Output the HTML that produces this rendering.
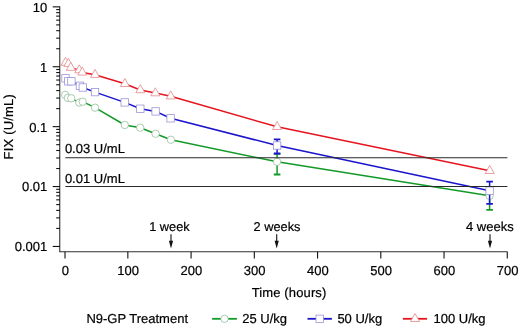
<!DOCTYPE html>
<html><head><meta charset="utf-8"><title>FIX activity</title>
<style>html,body{margin:0;padding:0;background:#fff;overflow:hidden;}svg{display:block;will-change:transform;}text{font-family:"Liberation Sans",sans-serif;font-size:13px;fill:#000;stroke:#000;stroke-width:0.2px;text-rendering:geometricPrecision;}</style>
</head><body>
<svg width="520" height="329" viewBox="0 0 520 329">
<rect width="520" height="329" fill="#fff"/>
<path d="M59.75 6.4V251.8H507.4" stroke="#303030" stroke-width="1.1" fill="none"/>
<g stroke="#111" stroke-width="1.1" fill="none">
<path d="M52.7 6.85H59.9"/>
<path d="M56.2 48.72H59.9"/>
<path d="M56.2 38.17H59.9"/>
<path d="M56.2 30.69H59.9"/>
<path d="M56.2 24.88H59.9"/>
<path d="M56.2 20.14H59.9"/>
<path d="M56.2 16.13H59.9"/>
<path d="M56.2 12.65H59.9"/>
<path d="M56.2 9.59H59.9"/>
<path d="M52.7 66.75H59.9"/>
<path d="M56.2 108.62H59.9"/>
<path d="M56.2 98.07H59.9"/>
<path d="M56.2 90.59H59.9"/>
<path d="M56.2 84.78H59.9"/>
<path d="M56.2 80.04H59.9"/>
<path d="M56.2 76.03H59.9"/>
<path d="M56.2 72.55H59.9"/>
<path d="M56.2 69.49H59.9"/>
<path d="M52.7 126.65H59.9"/>
<path d="M56.2 168.52H59.9"/>
<path d="M56.2 157.97H59.9"/>
<path d="M56.2 150.49H59.9"/>
<path d="M56.2 144.68H59.9"/>
<path d="M56.2 139.94H59.9"/>
<path d="M56.2 135.93H59.9"/>
<path d="M56.2 132.45H59.9"/>
<path d="M56.2 129.39H59.9"/>
<path d="M52.7 186.55H59.9"/>
<path d="M56.2 228.42H59.9"/>
<path d="M56.2 217.87H59.9"/>
<path d="M56.2 210.39H59.9"/>
<path d="M56.2 204.58H59.9"/>
<path d="M56.2 199.84H59.9"/>
<path d="M56.2 195.83H59.9"/>
<path d="M56.2 192.35H59.9"/>
<path d="M56.2 189.29H59.9"/>
<path d="M52.7 246.45H59.9"/>
<path d="M65.00 251.8V258.4"/>
<path d="M127.84 251.8V258.4"/>
<path d="M191.08 251.8V258.4"/>
<path d="M254.32 251.8V258.4"/>
<path d="M317.56 251.8V258.4"/>
<path d="M380.80 251.8V258.4"/>
<path d="M444.04 251.8V258.4"/>
<path d="M507.28 251.8V258.4"/>
</g>
<text x="47.3" y="11.75" text-anchor="end">10</text>
<text x="47.3" y="71.65" text-anchor="end">1</text>
<text x="47.3" y="131.55" text-anchor="end">0.1</text>
<text x="47.3" y="191.45" text-anchor="end">0.01</text>
<text x="47.3" y="251.35" text-anchor="end">0.001</text>
<text x="65.30" y="274.7" text-anchor="middle">0</text>
<text x="128.14" y="274.7" text-anchor="middle">100</text>
<text x="191.38" y="274.7" text-anchor="middle">200</text>
<text x="254.62" y="274.7" text-anchor="middle">300</text>
<text x="317.86" y="274.7" text-anchor="middle">400</text>
<text x="381.10" y="274.7" text-anchor="middle">500</text>
<text x="444.34" y="274.7" text-anchor="middle">600</text>
<text x="507.58" y="274.7" text-anchor="middle">700</text>
<text transform="translate(12.5 126.7) rotate(-90)" text-anchor="middle" style="letter-spacing:0.2px">FIX (U/mL)</text>
<text x="289.1" y="296.7" text-anchor="middle" style="letter-spacing:0.13px">Time (hours)</text>
<text x="64.9" y="152.9">0.03 U/mL</text>
<text x="64.9" y="182.5">0.01 U/mL</text>
<text x="149.2" y="230.8" style="font-size:12.8px">1 week</text>
<text x="253.5" y="231" style="font-size:12.8px">2 weeks</text>
<text x="466" y="231">4 weeks</text>
<path d="M171 234.3V242" stroke="#111" stroke-width="1.1" fill="none"/>
<path d="M168.9 240.8H173.1L171 248.4Z" fill="#111"/>
<path d="M276.7 234.3V242" stroke="#111" stroke-width="1.1" fill="none"/>
<path d="M274.59999999999997 240.8H278.8L276.7 248.4Z" fill="#111"/>
<path d="M490 234.3V242" stroke="#111" stroke-width="1.1" fill="none"/>
<path d="M487.9 240.8H492.1L490 248.4Z" fill="#111"/>
<path d="M65.20 94.90L67.80 97.90L71.20 98.30L79.30 102.60L82.70 101.70L95.00 107.70L124.75 125.00L140.25 127.75L155.60 133.75L170.90 139.75L277.10 161.80L489.60 195.80" stroke="#129a28" stroke-width="1.5" fill="none" stroke-linejoin="round"/>
<path d="M277.1 153.9V174.5" stroke="#129a28" stroke-width="1.5" fill="none"/>
<path d="M273.8 153.9H280.40000000000003M273.8 174.5H280.40000000000003" stroke="#129a28" stroke-width="1.8" fill="none"/>
<path d="M489.6 187.3V209.8" stroke="#129a28" stroke-width="1.5" fill="none"/>
<path d="M486.3 187.3H492.90000000000003M486.3 209.8H492.90000000000003" stroke="#129a28" stroke-width="1.8" fill="none"/>
<circle cx="65.2" cy="94.9" r="3.7" fill="#fff" stroke="#96c09c" stroke-width="0.8"/>
<circle cx="67.8" cy="97.9" r="3.7" fill="#fff" stroke="#96c09c" stroke-width="0.8"/>
<circle cx="71.2" cy="98.3" r="3.7" fill="#fff" stroke="#96c09c" stroke-width="0.8"/>
<circle cx="79.3" cy="102.6" r="3.7" fill="#fff" stroke="#96c09c" stroke-width="0.8"/>
<circle cx="82.7" cy="101.7" r="3.7" fill="#fff" stroke="#96c09c" stroke-width="0.8"/>
<circle cx="95" cy="107.7" r="3.7" fill="#fff" stroke="#96c09c" stroke-width="0.8"/>
<circle cx="124.75" cy="125" r="3.7" fill="#fff" stroke="#96c09c" stroke-width="0.8"/>
<circle cx="140.25" cy="127.75" r="3.7" fill="#fff" stroke="#96c09c" stroke-width="0.8"/>
<circle cx="155.6" cy="133.75" r="3.7" fill="#fff" stroke="#96c09c" stroke-width="0.8"/>
<circle cx="170.9" cy="139.75" r="3.7" fill="#fff" stroke="#96c09c" stroke-width="0.8"/>
<circle cx="277.1" cy="161.8" r="3.7" fill="#fff" stroke="#96c09c" stroke-width="0.8"/>
<circle cx="489.6" cy="195.8" r="3.7" fill="#fff" stroke="#96c09c" stroke-width="0.8"/>
<path d="M65.50 78.30L68.30 81.30L71.40 81.30L79.90 85.80L82.80 87.50L95.00 92.10L124.70 102.40L140.30 108.75L155.60 111.40L170.60 118.30L277.10 145.50L489.60 190.70" stroke="#1a14cc" stroke-width="1.5" fill="none" stroke-linejoin="round"/>
<path d="M277.1 139.3V153.5" stroke="#1a14cc" stroke-width="1.5" fill="none"/>
<path d="M273.8 139.3H280.40000000000003M273.8 153.5H280.40000000000003" stroke="#1a14cc" stroke-width="1.8" fill="none"/>
<path d="M489.6 181.6V203.9" stroke="#1a14cc" stroke-width="1.5" fill="none"/>
<path d="M486.3 181.6H492.90000000000003M486.3 203.9H492.90000000000003" stroke="#1a14cc" stroke-width="1.8" fill="none"/>
<rect x="61.80" y="74.60" width="7.4" height="7.4" fill="#fff" stroke="#9a94d6" stroke-width="0.8"/>
<rect x="64.60" y="77.60" width="7.4" height="7.4" fill="#fff" stroke="#9a94d6" stroke-width="0.8"/>
<rect x="67.70" y="77.60" width="7.4" height="7.4" fill="#fff" stroke="#9a94d6" stroke-width="0.8"/>
<rect x="76.20" y="82.10" width="7.4" height="7.4" fill="#fff" stroke="#9a94d6" stroke-width="0.8"/>
<rect x="79.10" y="83.80" width="7.4" height="7.4" fill="#fff" stroke="#9a94d6" stroke-width="0.8"/>
<rect x="91.30" y="88.40" width="7.4" height="7.4" fill="#fff" stroke="#9a94d6" stroke-width="0.8"/>
<rect x="121.00" y="98.70" width="7.4" height="7.4" fill="#fff" stroke="#9a94d6" stroke-width="0.8"/>
<rect x="136.60" y="105.05" width="7.4" height="7.4" fill="#fff" stroke="#9a94d6" stroke-width="0.8"/>
<rect x="151.90" y="107.70" width="7.4" height="7.4" fill="#fff" stroke="#9a94d6" stroke-width="0.8"/>
<rect x="166.90" y="114.60" width="7.4" height="7.4" fill="#fff" stroke="#9a94d6" stroke-width="0.8"/>
<rect x="273.40" y="141.80" width="7.4" height="7.4" fill="#fff" stroke="#9a94d6" stroke-width="0.8"/>
<rect x="485.90" y="187.00" width="7.4" height="7.4" fill="#fff" stroke="#9a94d6" stroke-width="0.8"/>
<path d="M65.50 62.60L68.40 63.70L70.80 67.60L79.30 70.10L82.30 72.40L95.00 74.70L124.90 83.80L140.30 90.00L155.40 93.10L170.70 96.20L277.10 126.80L489.70 170.80" stroke="#e5141f" stroke-width="1.5" fill="none" stroke-linejoin="round"/>
<path d="M65.50 57.30L70.00 65.30H61.00Z" fill="#fff" stroke="#e58888" stroke-width="0.8"/>
<path d="M68.40 58.40L72.90 66.40H63.90Z" fill="#fff" stroke="#e58888" stroke-width="0.8"/>
<path d="M70.80 62.30L75.30 70.30H66.30Z" fill="#fff" stroke="#e58888" stroke-width="0.8"/>
<path d="M79.30 64.80L83.80 72.80H74.80Z" fill="#fff" stroke="#e58888" stroke-width="0.8"/>
<path d="M82.30 67.10L86.80 75.10H77.80Z" fill="#fff" stroke="#e58888" stroke-width="0.8"/>
<path d="M95.00 69.40L99.50 77.40H90.50Z" fill="#fff" stroke="#e58888" stroke-width="0.8"/>
<path d="M124.90 78.50L129.40 86.50H120.40Z" fill="#fff" stroke="#e58888" stroke-width="0.8"/>
<path d="M140.30 84.70L144.80 92.70H135.80Z" fill="#fff" stroke="#e58888" stroke-width="0.8"/>
<path d="M155.40 87.80L159.90 95.80H150.90Z" fill="#fff" stroke="#e58888" stroke-width="0.8"/>
<path d="M170.70 90.90L175.20 98.90H166.20Z" fill="#fff" stroke="#e58888" stroke-width="0.8"/>
<path d="M277.10 121.50L281.60 129.50H272.60Z" fill="#fff" stroke="#e58888" stroke-width="0.8"/>
<path d="M489.70 165.50L494.20 173.50H485.20Z" fill="#fff" stroke="#e58888" stroke-width="0.8"/>
<path d="M65.3 157.7H507.4M65.3 186.55H507.4" stroke="#2a2a2a" stroke-width="1.1" fill="none"/>
<text x="86.4" y="322.7">N9-GP Treatment</text>
<path d="M212.1 318.8H236.9" stroke="#129a28" stroke-width="1.8" fill="none"/>
<circle cx="224.5" cy="318.8" r="3.7" fill="#fff" stroke="#96c09c" stroke-width="0.8"/>
<text x="242.3" y="322.7">25 U/kg</text>
<path d="M307.5 318.8H331.9" stroke="#1a14cc" stroke-width="1.8" fill="none"/>
<rect x="316.00" y="315.10" width="7.4" height="7.4" fill="#fff" stroke="#9a94d6" stroke-width="0.8"/>
<text x="337.4" y="322.7">50 U/kg</text>
<path d="M402.9 318.8H427.1" stroke="#e5141f" stroke-width="1.8" fill="none"/>
<path d="M415.00 313.50L419.50 321.50H410.50Z" fill="#fff" stroke="#e58888" stroke-width="0.8"/>
<text x="433.5" y="322.7">100 U/kg</text>
</svg></body></html>
